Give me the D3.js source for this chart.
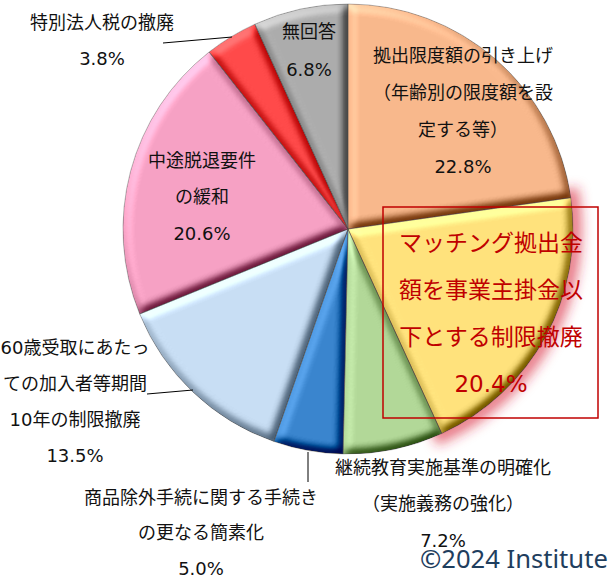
<!DOCTYPE html>
<html>
<head>
<meta charset="utf-8">
<script src="https://cdn.jsdelivr.net/npm/d3@7/dist/d3.min.js"></script>
<style>
  html, body { margin: 0; padding: 0; background: #fff; }
  svg { display: block; }
</style>
</head>
<body>
<svg id="chart" width="612" height="576"></svg>
<script>
// ---- data ----
const categories = [
  ["拠出限度額の引き上げ", "（年齢別の限度額を設", "定する等）"],
  ["マッチング拠出金", "額を事業主掛金以", "下とする制限撤廃"],
  ["継続教育実施基準の明確化", "（実施義務の強化）"],
  ["商品除外手続に関する手続き", "の更なる簡素化"],
  ["60歳受取にあたっ", "ての加入者等期間", "10年の制限撤廃"],
  ["中途脱退要件", "の緩和"],
  ["特別法人税の撤廃"],
  ["無回答"]
];
const values = [22.8, 20.4, 7.2, 5.0, 13.5, 20.6, 3.8, 6.8];
const valueLabels = ["22.8%", "20.4%", "7.2%", "5.0%", "13.5%", "20.6%", "3.8%", "6.8%"];
const colors = ["#F8B88C", "#FFE27C", "#B2D898", "#3A85CE", "#C8DEF4", "#F6A1C4", "#FF4A4A", "#ACACAC"];
const copyright = "©2024 Institute";

// ---- layout (label placement) ----
const labelLayout = [
  { x: 463, y: 55,  dy: 37.3, size: 18, color: "#111" },
  { x: 491, y: 243, dy: 47,   size: 23, color: "#C00000" },
  { x: 443, y: 467, dy: 36.5, size: 18, color: "#111" },
  { x: 201, y: 497, dy: 35.5, size: 18, color: "#111" },
  { x: 75,  y: 347, dy: 36,   size: 18, color: "#111" },
  { x: 202, y: 160, dy: 36.5, size: 18, color: "#111" },
  { x: 102, y: 22,  dy: 36,   size: 18, color: "#111" },
  { x: 309, y: 31,  dy: 38.5, size: 18, color: "#111" }
];

const svg = d3.select("#chart");
const cx = 348, cy = 229, R = 225;

const defs = svg.append("defs");
const bevel = defs.append("filter").attr("id", "bevel")
  .attr("x", "-5%").attr("y", "-5%").attr("width", "110%").attr("height", "110%")
  .attr("color-interpolation-filters", "sRGB");
bevel.append("feGaussianBlur").attr("in", "SourceAlpha").attr("stdDeviation", 5).attr("result", "b");
const dl = bevel.append("feDiffuseLighting").attr("in", "b").attr("surfaceScale", 7)
  .attr("diffuseConstant", 1).attr("lighting-color", "#fff").attr("result", "light");
dl.append("feDistantLight").attr("azimuth", 235).attr("elevation", 50);
bevel.append("feComposite").attr("in", "SourceGraphic").attr("in2", "light")
  .attr("operator", "arithmetic").attr("k1", 0).attr("k2", 1).attr("k3", 0.7).attr("k4", -0.536)
  .attr("result", "lit");
bevel.append("feComposite").attr("in", "lit").attr("in2", "SourceAlpha").attr("operator", "in");

const glow = defs.append("filter").attr("id", "glow")
  .attr("x", "-20%").attr("y", "-20%").attr("width", "140%").attr("height", "140%");
glow.append("feGaussianBlur").attr("stdDeviation", 6);

const pie = d3.pie().sort(null).value(d => d).startAngle(0).endAngle(2 * Math.PI);
const arcs = pie(values);
const arc = d3.arc().innerRadius(0).outerRadius(R);

const g = svg.append("g").attr("transform", `translate(${cx},${cy})`);

// red glow behind the highlighted slice
g.append("path")
  .attr("d", arc(arcs[1]))
  .attr("fill", "none")
  .attr("stroke", "#D8283A")
  .attr("stroke-width", 18)
  .attr("stroke-opacity", 0.6)
  .attr("filter", "url(#glow)");

g.selectAll("path.slice")
  .data(arcs)
  .enter().append("path")
  .attr("class", "slice")
  .attr("d", arc)
  .attr("fill", (d, i) => colors[i])
  .attr("filter", "url(#bevel)");

g.selectAll("path.edge")
  .data(arcs)
  .enter().append("path")
  .attr("class", "edge")
  .attr("d", arc)
  .attr("fill", "none")
  .attr("stroke", "rgba(70,70,70,0.45)")
  .attr("stroke-width", 0.8);

// red box around highlighted label
svg.append("rect")
  .attr("x", 383).attr("y", 207).attr("width", 215).attr("height", 211)
  .attr("fill", "none").attr("stroke", "#C00000").attr("stroke-width", 1.5);

// leader lines
const leaders = [
  [[163, 43], [232, 37]],
  [[147, 394], [193, 390]],
  [[308, 452], [308, 482]]
];
svg.selectAll("path.leader")
  .data(leaders)
  .enter().append("path")
  .attr("class", "leader")
  .attr("d", d => d3.line()(d))
  .attr("stroke", "#000").attr("stroke-width", 1).attr("fill", "none");

// labels
const fontFamily = "'DejaVu Sans', 'Noto Sans CJK JP', sans-serif";
categories.forEach((lines, i) => {
  const L = labelLayout[i];
  const all = lines.concat([valueLabels[i]]);
  const t = svg.append("text")
    .attr("font-family", fontFamily)
    .attr("font-size", L.size)
    .attr("fill", L.color)
    .attr("text-anchor", "middle");
  all.forEach((s, k) => {
    t.append("tspan")
      .attr("x", L.x)
      .attr("y", L.y + k * L.dy)
      .attr("dominant-baseline", "central")
      .text(s);
  });
});

svg.append("text")
  .attr("x", 420).attr("y", 568)
  .attr("font-family", "'Noto Sans', 'Open Sans', sans-serif")
  .attr("font-size", 25.6)
  .attr("fill", "#1F3E5E")
  .text(copyright);
</script>
</body>
</html>
